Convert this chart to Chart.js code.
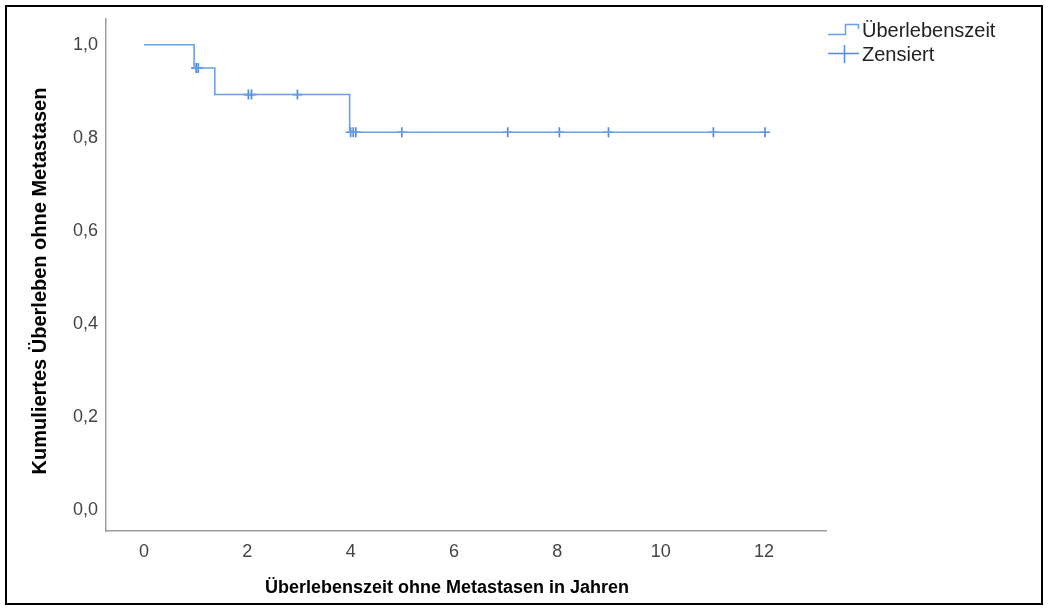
<!DOCTYPE html>
<html>
<head>
<meta charset="utf-8">
<script src="https://cdn.jsdelivr.net/npm/chart.js@4/dist/chart.umd.min.js"></script>
<style>
  html, body { margin: 0; padding: 0; background: #fff; }
  #wrap { position: relative; width: 1048px; height: 610px; }
  #frame { position: absolute; left: 5px; top: 5px; width: 1038px; height: 600px; box-sizing: border-box; border: 2px solid #000; pointer-events: none; }
  canvas { position: absolute; left: 0; top: 0; }
</style>
</head>
<body>
<div id="wrap">
  <canvas id="c" width="1048" height="610"></canvas>
  <div id="frame"></div>
</div>
<script>
// ---- data ----
const stepTimes    = [0, 0.97, 1.37, 3.98, 12.02];
const stepSurvival = [1.0, 0.950, 0.893, 0.812, 0.812];
const censorTimes    = [1.01, 1.05, 2.02, 2.08, 2.97, 4.00, 4.05, 4.10, 4.99, 7.04, 8.04, 8.99, 11.02, 12.02];
const censorSurvival = [0.950, 0.950, 0.893, 0.893, 0.893, 0.812, 0.812, 0.812, 0.812, 0.812, 0.812, 0.812, 0.812, 0.812];
const xTicks = [0, 2, 4, 6, 8, 10, 12];
const yTicks = [0.0, 0.2, 0.4, 0.6, 0.8, 1.0];
const seriesLabels = ['Überlebenszeit', 'Zensiert'];
const xTitle = 'Überlebenszeit ohne Metastasen in Jahren';
const yTitle = 'Kumuliertes Überleben ohne Metastasen';

const lineColor = '#6A9FEA';
const censorColor = '#4F8BE0';
const FONT = "'Liberation Sans', Arial, sans-serif";

const stepData = stepTimes.map((t, i) => ({ x: t, y: stepSurvival[i] }));
const censorData = censorTimes.map((t, i) => ({ x: t, y: censorSurvival[i] }));

const overlay = {
  id: 'overlay',
  afterDraw(chart) {
    const ctx = chart.ctx;
    ctx.save();
    // x axis title
    ctx.font = 'bold 18px ' + FONT;
    ctx.fillStyle = '#000';
    ctx.textAlign = 'center';
    ctx.textBaseline = 'middle';
    ctx.fillText(xTitle, 447, 588);
    // y axis title
    ctx.save();
    ctx.translate(40, 281);
    ctx.rotate(-Math.PI / 2);
    ctx.font = 'bold 20px ' + FONT;
    ctx.fillText(yTitle, 0, 0);
    ctx.restore();
    // legend
    ctx.lineWidth = 1.5;
    ctx.strokeStyle = lineColor;
    ctx.beginPath();
    ctx.moveTo(828, 34.5); ctx.lineTo(845.5, 34.5); ctx.lineTo(845.5, 24.5); ctx.lineTo(858.5, 24.5); ctx.lineTo(858.5, 29);
    ctx.stroke();
    ctx.strokeStyle = censorColor;
    ctx.beginPath();
    ctx.moveTo(828, 53.5); ctx.lineTo(859, 53.5);
    ctx.moveTo(844.5, 45); ctx.lineTo(844.5, 63);
    ctx.stroke();
    ctx.font = '20px ' + FONT;
    ctx.fillStyle = '#222';
    ctx.textAlign = 'left';
    ctx.textBaseline = 'middle';
    ctx.fillText(chart.data.datasets[0].label, 862, 31);
    ctx.fillText(chart.data.datasets[1].label, 862, 55);
    ctx.restore();
  }
};

new Chart(document.getElementById('c'), {
  type: 'line',
  data: {
    datasets: [
      {
        label: seriesLabels[0],
        data: stepData,
        stepped: true,
        borderColor: lineColor,
        borderWidth: 1.6,
        pointRadius: 0,
        fill: false
      },
      {
        label: seriesLabels[1],
        data: censorData,
        showLine: false,
        pointStyle: 'cross',
        pointRadius: 5,
        pointBorderWidth: 1.7,
        pointBorderColor: censorColor,
        pointBackgroundColor: censorColor
      }
    ]
  },
  plugins: [overlay],
  options: {
    responsive: false,
    animation: false,
    devicePixelRatio: 1,
    layout: { padding: { left: 0, top: 18, right: 222, bottom: 0 } },
    plugins: { legend: { display: false }, tooltip: { enabled: false } },
    scales: {
      x: {
        type: 'linear',
        min: -0.7355,
        max: 13.2,
        afterBuildTicks: s => { s.ticks = xTicks.map(v => ({ value: v })); },
        afterFit: s => { s.height = 79; },
        grid: { display: false, drawTicks: false },
        border: { display: true, color: '#9c9c9c', width: 1.5 },
        ticks: {
          padding: 10,
          color: '#444',
          font: { family: FONT, size: 18 },
          callback: v => String(v)
        }
      },
      y: {
        type: 'linear',
        min: -0.045,
        max: 1.0558,
        afterBuildTicks: s => { s.ticks = yTicks.map(v => ({ value: v })); },
        afterFit: s => { s.width = 106; },
        grid: { display: false, drawTicks: false },
        border: { display: true, color: '#9c9c9c', width: 1.5 },
        ticks: {
          padding: 8,
          color: '#444',
          font: { family: FONT, size: 18 },
          callback: v => v.toFixed(1).replace('.', ',')
        }
      }
    }
  }
});
</script>
</body>
</html>
